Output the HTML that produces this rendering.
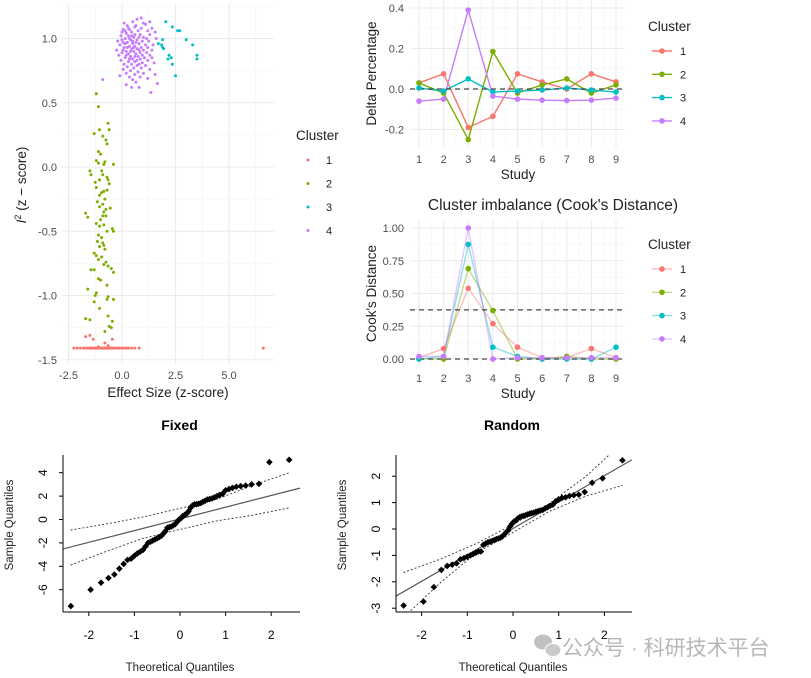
<!DOCTYPE html>
<html><head><meta charset="utf-8"><style>
html,body{margin:0;padding:0;background:#fff;}
svg{display:block;font-family:"Liberation Sans","Noto Sans CJK SC",sans-serif;}
</style></head><body>
<svg id="root" width="811" height="678" viewBox="0 0 811 678"></svg>
<script>
// ---------- DATA ----------
const clusterColors = ["#F8766D","#7CAE00","#00BFC4","#C77CFF"];
const clusterLabels = ["1","2","3","4"];
// scatter: effect size (x), I2 z-score (y)
const scatter1 = [[-2.25,-1.41],[-2.1,-1.41],[-1.95,-1.41],[-1.8,-1.41],[-1.7,-1.41],[-1.6,-1.41],[-1.5,-1.41],[-1.45,-1.41],[-1.38,-1.41],[-1.3,-1.41],[-1.25,-1.41],[-1.2,-1.41],[-1.15,-1.41],[-1.1,-1.41],[-1.05,-1.41],[-1.0,-1.41],[-0.95,-1.41],[-0.9,-1.41],[-0.85,-1.41],[-0.8,-1.41],[-0.75,-1.41],[-0.7,-1.41],[-0.65,-1.41],[-0.6,-1.41],[-0.55,-1.41],[-0.5,-1.41],[-0.45,-1.41],[-0.4,-1.41],[-0.3,-1.41],[-0.2,-1.41],[-0.1,-1.41],[0.0,-1.41],[0.1,-1.41],[0.2,-1.41],[0.3,-1.41],[0.45,-1.41],[0.6,-1.41],[0.8,-1.41],[-1.7,-1.32],[-1.5,-1.31],[-1.35,-1.34],[-1.1,-1.4],[-0.8,-1.37],[-0.65,-1.39],[-0.45,-1.34],[6.6,-1.41]];
const scatter2 = [[-1.2,0.57],[-1.1,0.47],[-0.65,0.34],[-0.6,0.29],[-1.05,0.29],[-1.3,0.26],[-0.9,0.24],[-0.75,0.21],[-0.7,0.18],[-1.1,0.12],[-1.0,0.1],[-1.2,0.05],[-0.8,0.04],[-0.85,0.02],[-1.1,0.03],[-0.4,0.02],[-1.5,-0.03],[-1.45,-0.06],[-0.95,-0.03],[-0.9,-0.06],[-0.7,-0.08],[-0.65,-0.1],[-1.05,-0.1],[-1.25,-0.12],[-0.6,-0.13],[-1.2,-0.16],[-0.85,-0.19],[-0.95,-0.2],[-1.05,-0.22],[-0.7,-0.18],[-0.8,-0.25],[-1.15,-0.27],[-0.9,-0.29],[-1.05,-0.31],[-0.75,-0.33],[-0.55,-0.32],[-0.85,-0.35],[-1.7,-0.36],[-1.6,-0.39],[-0.9,-0.38],[-0.75,-0.38],[-1.0,-0.41],[-1.2,-0.44],[-0.85,-0.45],[-1.05,-0.46],[-0.45,-0.48],[-0.4,-0.5],[-0.7,-0.5],[-1.1,-0.53],[-0.95,-0.55],[-1.15,-0.58],[-0.9,-0.59],[-1.05,-0.62],[-0.85,-0.61],[-0.8,-0.64],[-1.3,-0.67],[-1.2,-0.69],[-0.95,-0.7],[-1.1,-0.72],[-0.75,-0.74],[-0.85,-0.76],[-0.65,-0.77],[-1.45,-0.8],[-1.3,-0.8],[-0.5,-0.79],[-0.4,-0.82],[-1.1,-0.87],[-1.0,-0.88],[-0.7,-0.92],[-1.6,-0.95],[-1.2,-0.98],[-1.25,-1.0],[-0.65,-1.01],[-0.7,-1.03],[-0.4,-1.03],[-1.3,-1.05],[-1.05,-1.1],[-0.65,-1.16],[-1.7,-1.18],[-1.5,-1.19],[-0.45,-1.2],[-0.6,-1.24],[-0.8,-1.28],[-0.5,-1.25]];
const scatter3 = [[2.05,1.13],[2.35,1.09],[2.6,1.06],[2.7,1.06],[1.9,0.99],[3.0,0.99],[3.3,0.95],[1.85,0.95],[1.9,0.93],[1.95,0.92],[2.2,0.87],[3.5,0.87],[3.5,0.84],[2.3,0.85],[2.15,0.84],[2.35,0.8],[2.5,0.71],[1.7,0.96]];
const scatter4 = [[0.9,1.16],[0.7,1.15],[1.3,1.13],[0.5,1.13],[0.1,1.12],[1.1,1.11],[0.25,1.1],[0.6,1.09],[0.9,1.08],[1.4,1.08],[0.05,1.07],[0.35,1.07],[0.75,1.06],[1.2,1.06],[0.0,1.05],[0.45,1.05],[1.55,1.05],[0.2,1.04],[0.6,1.03],[0.85,1.03],[1.3,1.03],[-0.05,1.02],[0.3,1.02],[0.55,1.01],[1.0,1.01],[1.6,1.0],[0.15,1.0],[0.4,0.99],[0.7,0.99],[0.95,0.98],[1.25,0.98],[-0.2,0.98],[0.05,0.97],[0.25,0.97],[0.5,0.96],[0.8,0.96],[1.1,0.95],[1.45,0.95],[-0.1,0.95],[0.35,0.94],[0.6,0.94],[0.9,0.93],[1.2,0.93],[0.1,0.93],[0.45,0.92],[0.7,0.92],[1.0,0.91],[1.4,0.91],[-0.25,0.91],[0.2,0.9],[0.55,0.9],[0.85,0.89],[1.15,0.89],[0.0,0.89],[0.3,0.88],[0.65,0.88],[0.95,0.87],[1.3,0.87],[-0.15,0.87],[0.4,0.86],[0.75,0.86],[1.05,0.85],[0.15,0.85],[0.5,0.84],[0.85,0.84],[1.2,0.83],[-0.05,0.83],[0.3,0.82],[0.6,0.82],[0.95,0.81],[1.5,0.81],[0.1,0.8],[0.45,0.8],[0.7,0.79],[1.1,0.79],[0.25,0.78],[0.55,0.77],[0.9,0.77],[1.3,0.76],[0.05,0.76],[0.4,0.75],[0.75,0.74],[1.0,0.73],[0.2,0.73],[0.6,0.72],[1.55,0.72],[-0.1,0.71],[0.35,0.7],[0.85,0.7],[1.2,0.69],[0.5,0.68],[0.65,0.66],[1.65,0.65],[0.2,0.64],[0.45,0.62],[0.8,0.62],[1.35,0.58],[-0.9,0.68],[0.3,1.08],[0.65,1.1],[1.0,1.12],[0.15,1.06],[0.8,1.01],[0.35,1.0],[0.5,0.98],[0.15,0.96],[0.65,0.97],[0.25,0.93],[0.8,0.91],[0.4,0.9],[0.05,0.91],[0.6,0.86],[0.2,0.87],[0.35,0.84],[0.8,0.8],[1.4,0.85],[0.55,0.93],[0.45,1.02],[1.15,1.0],[0.7,0.83],[0.0,0.99]];
// Delta percentage by study
const studies = [1,2,3,4,5,6,7,8,9];
const delta1 = [0.03,0.075,-0.19,-0.135,0.075,0.035,0.0,0.075,0.035];
const delta2 = [0.03,-0.02,-0.25,0.185,-0.02,0.02,0.05,-0.02,0.02];
const delta3 = [0.005,-0.01,0.05,-0.015,-0.01,-0.005,0.005,-0.005,-0.015];
const delta4 = [-0.06,-0.05,0.39,-0.035,-0.05,-0.055,-0.057,-0.055,-0.045];
const deltaTicks = [0.4,0.2,0.0,-0.2];
const deltaTickLabels = ["0.4","0.2","0.0","-0.2"];
// Cook's distance
const cook1 = [0.01,0.08,0.54,0.27,0.09,0.01,0.01,0.08,0.01];
const cook2 = [0.0,0.0,0.69,0.37,0.0,0.0,0.02,0.0,0.0];
const cook3 = [0.0,0.02,0.875,0.09,0.02,0.0,0.0,0.0,0.09];
const cook4 = [0.02,0.02,1.0,0.0,0.01,0.01,0.01,0.01,0.01];
const cookThreshold = 0.375;
const cookTicks = [1.0,0.75,0.5,0.25,0.0];
const cookTickLabels = ["1.00","0.75","0.50","0.25","0.00"];
// QQ plots (sorted sample quantiles, n=60)
const fixedSample = [-7.4,-6.0,-5.4,-5.0,-4.7,-4.2,-3.8,-3.45,-3.35,-3.1,-2.9,-2.75,-2.6,-2.3,-2.0,-1.9,-1.8,-1.7,-1.6,-1.5,-1.4,-1.2,-1.0,-0.7,-0.65,-0.6,-0.5,-0.4,-0.2,0.0,0.1,0.3,0.4,0.5,0.7,1.0,1.2,1.3,1.3,1.35,1.4,1.5,1.6,1.7,1.75,1.8,1.9,2.0,2.1,2.2,2.5,2.6,2.7,2.8,2.85,2.9,3.0,3.05,4.9,5.1];
const randomSample = [-2.9,-2.75,-2.2,-1.55,-1.4,-1.35,-1.3,-1.15,-1.1,-1.05,-1.0,-0.95,-0.9,-0.85,-0.85,-0.6,-0.55,-0.5,-0.48,-0.45,-0.42,-0.38,-0.36,-0.33,-0.28,-0.2,-0.12,-0.05,0.1,0.2,0.28,0.32,0.4,0.45,0.48,0.5,0.52,0.55,0.58,0.6,0.62,0.65,0.68,0.7,0.72,0.78,0.82,0.88,0.92,1.05,1.12,1.18,1.2,1.25,1.28,1.3,1.4,1.75,1.92,2.6];
const fixedLine = [0.05,1.0]; // intercept, slope
const randomLine = [0.02,1.0];
const fixedBandX = [-2.4,-1.6,-0.8,0,0.8,1.6,2.4];
const fixedUpper = [-0.9,-0.37,0.22,0.95,1.72,2.93,4.0];
const fixedLower = [-3.9,-2.7,-1.6,-0.85,-0.12,0.37,1.0];
const randomUpperX = [-2.4,-1.6,-0.8,0,0.8,1.6,2.1];
const randomUpper = [-1.65,-1.15,-0.55,0.17,0.97,2.0,2.8];
const randomLowerX = [-2.3,-1.6,-0.8,0,0.8,1.6,2.4];
const randomLower = [-3.2,-2.05,-0.9,-0.13,0.67,1.25,1.65];

// ---------- HELPERS ----------
const NS="http://www.w3.org/2000/svg";
const root=document.getElementById('root');
function mk(tag,attrs,parent){const e=document.createElementNS(NS,tag);for(const k in attrs)e.setAttribute(k,attrs[k]);(parent||root).appendChild(e);return e;}
function txt(s,x,y,attrs,parent){const e=mk('text',Object.assign({x:x,y:y},attrs),parent);e.textContent=s;return e;}
function lin(d0,d1,r0,r1){return v=>r0+(v-d0)*(r1-r0)/(d1-d0);}
function qnorm(p){ // Acklam approximation
  const a=[-39.6968302866538,220.946098424521,-275.928510446969,138.357751867269,-30.6647980661472,2.50662827745924];
  const b=[-54.4760987982241,161.585836858041,-155.698979859887,66.8013118877197,-13.2806815528857];
  const c=[-0.00778489400243029,-0.322396458041136,-2.40075827716184,-2.54973253934373,4.37466414146497,2.93816398269878];
  const d=[0.00778469570904146,0.32246712907004,2.445134137143,3.75440866190742];
  let q,r;
  if(p<0.02425){q=Math.sqrt(-2*Math.log(p));return(((((c[0]*q+c[1])*q+c[2])*q+c[3])*q+c[4])*q+c[5])/((((d[0]*q+d[1])*q+d[2])*q+d[3])*q+1);}
  if(p>1-0.02425){q=Math.sqrt(-2*Math.log(1-p));return-(((((c[0]*q+c[1])*q+c[2])*q+c[3])*q+c[4])*q+c[5])/((((d[0]*q+d[1])*q+d[2])*q+d[3])*q+1);}
  q=p-0.5;r=q*q;return(((((a[0]*r+a[1])*r+a[2])*r+a[3])*r+a[4])*r+a[5])*q/(((((b[0]*r+b[1])*r+b[2])*r+b[3])*r+b[4])*r+1);
}
const TICK="#4d4d4d";

// ---------- SCATTER ----------
(function(){
  const g=mk('g',{});
  
  
  const X=lin(0,5,122,229), Y=lin(0,1,167,38.5);
  const L=62,R=274,T=4,B=364;
  [-1.25,1.25,3.75,6.25].forEach(v=>mk('line',{x1:X(v),x2:X(v),y1:T,y2:B,stroke:'#f3f3f3','stroke-width':0.6},g));
  [1.25,0.75,0.25,-0.25,-0.75,-1.25].forEach(v=>mk('line',{x1:L,x2:R,y1:Y(v),y2:Y(v),stroke:'#f3f3f3','stroke-width':0.6},g));
  [-2.5,0,2.5,5].forEach(v=>mk('line',{x1:X(v),x2:X(v),y1:T,y2:B,stroke:'#ebebeb','stroke-width':1.1},g));
  [1,0.5,0,-0.5,-1,-1.5].forEach(v=>mk('line',{x1:L,x2:R,y1:Y(v),y2:Y(v),stroke:'#ebebeb','stroke-width':1.1},g));
  [[-2.5,"-2.5"],[0,"0.0"],[2.5,"2.5"],[5,"5.0"]].forEach(t=>{const e=txt(t[1],X(t[0]),379,{'font-size':11,fill:TICK,'text-anchor':'middle'},g);});
  [[1,"1.0"],[0.5,"0.5"],[0,"0.0"],[-0.5,"-0.5"],[-1,"-1.0"],[-1.5,"-1.5"]].forEach(t=>{const e=txt(t[1],57,Y(t[0])+4,{'font-size':11,fill:TICK,'text-anchor':'end'},g);});
  [scatter1,scatter2,scatter3,scatter4].forEach((arr,ci)=>arr.forEach(p=>{const c=mk('circle',{cx:X(p[0]),cy:Y(p[1]),r:1.5,fill:clusterColors[ci]},g);}));
  const xt=txt('Effect Size (z-score)',168,397,{'font-size':13.5,fill:'#222','text-anchor':'middle'},g);
  
  const yt=mk('text',{x:0,y:0,'font-size':13.5,fill:'#222','text-anchor':'middle',transform:'translate(26,185) rotate(-90)'},g);
  
  yt.innerHTML='<tspan font-style="italic">I</tspan><tspan dy="-5" font-size="9">2</tspan><tspan dy="5"> (z − score)</tspan>';
  const lt=txt('Cluster',296,140,{'font-size':13.5,fill:'#222'},g);
  clusterLabels.forEach((s,i)=>{const y=160+i*23.5;const c=mk('circle',{cx:308,cy:y,r:1.5,fill:clusterColors[i]},g);const e=txt(s,326,y+4,{'font-size':11,fill:'#222'},g);});
})();

// ---------- LINE CHARTS ----------
function linePanel(name,series,ticks,tickLabels,Y,T,B,xLabelY,studyY,ylab,ylabX,legY,lineOpacity,hlines,minorTicks){
  const g=mk('g',{});
  
  
  const X=lin(1,9,419,616), L=410, R=625;
  minorTicks.forEach(v=>mk('line',{x1:L,x2:R,y1:Y(v),y2:Y(v),stroke:'#f3f3f3','stroke-width':0.6},g));
  studies.slice(0,-1).forEach(s=>mk('line',{x1:X(s+0.5),x2:X(s+0.5),y1:T,y2:B,stroke:'#f3f3f3','stroke-width':0.6},g));
  ticks.forEach(v=>mk('line',{x1:L,x2:R,y1:Y(v),y2:Y(v),stroke:'#ebebeb','stroke-width':1.1},g));
  studies.forEach(s=>mk('line',{x1:X(s),x2:X(s),y1:T,y2:B,stroke:'#ebebeb','stroke-width':1.1},g));
  ticks.forEach((v,i)=>{const e=txt(tickLabels[i],404,Y(v)+4,{'font-size':11,fill:TICK,'text-anchor':'end'},g);});
  studies.forEach(s=>{const e=txt(String(s),X(s),xLabelY,{'font-size':11,fill:TICK,'text-anchor':'middle'},g);});
  series.forEach((vals,ci)=>{
    const pl=mk('polyline',{points:vals.map((v,i)=>X(studies[i])+','+Y(v)).join(' '),fill:'none',stroke:clusterColors[ci],'stroke-width':1.4,'stroke-opacity':lineOpacity},g);
    
  });
  hlines.forEach(h=>{const l=mk('line',{x1:L,x2:R,y1:Y(h),y2:Y(h),stroke:'#444','stroke-width':1.3,'stroke-dasharray':'5,4'},g);});
  series.forEach((vals,ci)=>vals.forEach((v,i)=>{const c=mk('circle',{cx:X(studies[i]),cy:Y(v),r:2.8,fill:clusterColors[ci]},g);}));
  const st=txt('Study',518,studyY,{'font-size':13.5,fill:'#222','text-anchor':'middle'},g);
  const yt=txt(ylab,0,0,{'font-size':13.5,fill:'#222','text-anchor':'middle',transform:'translate('+ylabX+','+((T+B)/2)+') rotate(-90)'},g);
  const lt=txt('Cluster',648,legY,{'font-size':13.5,fill:'#222'},g);
  clusterLabels.forEach((s,i)=>{const y=legY+20+i*23.3;mk('line',{x1:652,x2:672,y1:y,y2:y,stroke:clusterColors[i],'stroke-width':1.4,'stroke-opacity':lineOpacity},g);mk('circle',{cx:662,cy:y,r:2.8,fill:clusterColors[i]},g);const e=txt(s,680,y+4,{'font-size':11,fill:'#222'},g);});
  return g;
}
linePanel('delta-chart',[delta1,delta2,delta3,delta4],deltaTicks,deltaTickLabels,lin(0,0.4,89,8),0,147,163,179,'Delta Percentage',376,31,1,[0],[0.3,0.1,-0.1]);
const cg=linePanel('cook-chart',[cook1,cook2,cook3,cook4],cookTicks,cookTickLabels,lin(0,1,359,228),221,366,382,398,"Cook's Distance",376,249,0.45,[0,cookThreshold],[0.875,0.625,0.375,0.125]);
const ctitle=txt("Cluster imbalance (Cook's Distance)",553,210,{'font-size':15.5,fill:'#222','text-anchor':'middle'},cg);


// ---------- QQ PLOTS ----------
function qqPanel(name,title,sample,line,upX,up,loX,lo,o){
  const g=mk('g',{});
  
  
  const X=lin(0,1,o.x0,o.x0+o.xs), Y=lin(0,1,o.y0,o.y0-o.ys);
  const n=sample.length;
  mk('clipPath',{id:name+'-clip'},g).appendChild((()=>{const r=document.createElementNS(NS,'rect');r.setAttribute('x',o.L);r.setAttribute('y',455);r.setAttribute('width',o.R-o.L);r.setAttribute('height',612-455);return r;})());
  const inner=mk('g',{'clip-path':'url(#'+name+'-clip)'},g);
  const xa=(o.L-o.x0)/o.xs, xb=(o.R-o.x0)/o.xs;
  const rl=mk('line',{x1:X(xa),y1:Y(line[0]+line[1]*xa),x2:X(xb),y2:Y(line[0]+line[1]*xb),stroke:'#555','stroke-width':1.2},inner);
  
  const u=mk('polyline',{points:upX.map((v,i)=>X(v)+','+Y(up[i])).join(' '),fill:'none',stroke:'#333','stroke-width':0.9,'stroke-dasharray':'2,2'},inner);
  
  const l=mk('polyline',{points:loX.map((v,i)=>X(v)+','+Y(lo[i])).join(' '),fill:'none',stroke:'#333','stroke-width':0.9,'stroke-dasharray':'2,2'},inner);
  
  sample.forEach((v,i)=>{const q=qnorm((i+0.5)/n);const c=mk('path',{d:'M'+X(q)+','+(Y(v)-3.3)+' l3.3,3.3 l-3.3,3.3 l-3.3,-3.3z',fill:'#000'},g);});
  mk('line',{x1:o.L,x2:o.L,y1:455,y2:612,stroke:'#000','stroke-width':1},g);
  mk('line',{x1:o.L,x2:o.R,y1:612,y2:612,stroke:'#000','stroke-width':1},g);
  [-2,-1,0,1,2].forEach(v=>{mk('line',{x1:X(v),x2:X(v),y1:612,y2:616,stroke:'#000'},g);const e=txt(String(v),X(v),639,{'font-size':12,fill:'#000','text-anchor':'middle'},g);});
  o.yt.forEach(v=>{mk('line',{x1:o.L-4,x2:o.L,y1:Y(v),y2:Y(v),stroke:'#000'},g);const e=txt(String(v),0,0,{'font-size':12,fill:'#000','text-anchor':'middle',transform:'translate('+(o.L-16)+','+Y(v)+') rotate(-90)'},g);});
  const t=txt(title,(o.L+o.R)/2-2,430,{'font-size':14,'font-weight':'bold',fill:'#000','text-anchor':'middle'},g);
  const xt=txt('Theoretical Quantiles',o.x0,671,{'font-size':11.5,fill:'#222','text-anchor':'middle'},g);
  const yt=txt('Sample Quantiles',0,0,{'font-size':11.5,fill:'#222','text-anchor':'middle',transform:'translate('+(o.L-50)+',525) rotate(-90)'},g);
}
qqPanel('qq-fixed','Fixed',fixedSample,fixedLine,fixedBandX,fixedUpper,fixedBandX,fixedLower,{x0:180,xs:45.6,y0:519.5,ys:11.7,L:63,R:300,yt:[4,2,0,-2,-4,-6]});
qqPanel('qq-random','Random',randomSample,randomLine,randomUpperX,randomUpper,randomLowerX,randomLower,{x0:513,xs:45.7,y0:529,ys:26.4,L:396,R:632,yt:[2,1,0,-1,-2,-3]});

// watermark
const wm=mk('g',{opacity:0.6});


mk('ellipse',{cx:543,cy:642,rx:9,ry:7.5,fill:'#999'},wm);
mk('ellipse',{cx:553,cy:650,rx:8,ry:6.5,fill:'#aaa',stroke:'#fff','stroke-width':1},wm);
txt('公众号 · 科研技术平台',562,655,{'font-size':21,fill:'#888'},wm);
</script>
</body></html>
